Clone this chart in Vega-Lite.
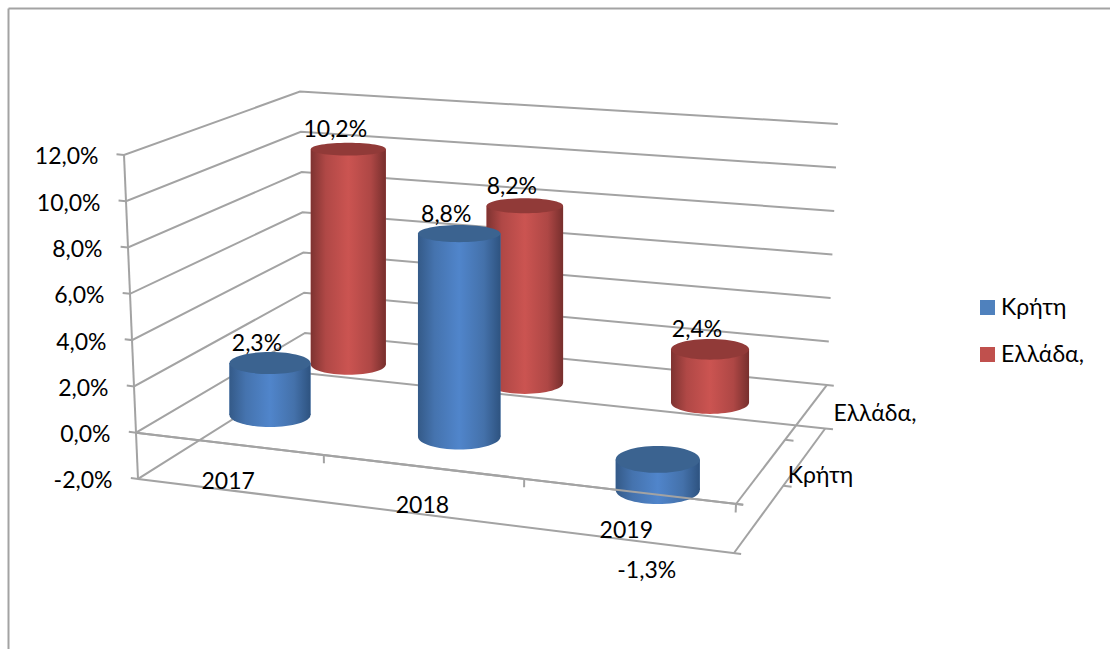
{
"$schema":"https://vega.github.io/schema/vega-lite/v6.json",
"width":1102,"height":641,
"autosize":{"type":"none"},
"padding":{"left":8,"top":8,"right":0,"bottom":0},
"background":"white",
"config":{"view":{"stroke":null},"font":"Lato","text":{"font":"Lato","fontSize":23,"color":"#000000"}},
"datasets":{
"walls":[
{"part":"g12","level":12,"a":-0.012,"d":0,"step":0},{"part":"g12","level":12,"a":0,"d":0,"step":1},{"part":"g12","level":12,"a":0,"d":1,"step":2},{"part":"g12","level":12,"a":1,"d":1,"step":3},
{"part":"g10","level":10,"a":-0.012,"d":0,"step":0},{"part":"g10","level":10,"a":0,"d":0,"step":1},{"part":"g10","level":10,"a":0,"d":1,"step":2},{"part":"g10","level":10,"a":1,"d":1,"step":3},
{"part":"g8","level":8,"a":-0.012,"d":0,"step":0},{"part":"g8","level":8,"a":0,"d":0,"step":1},{"part":"g8","level":8,"a":0,"d":1,"step":2},{"part":"g8","level":8,"a":1,"d":1,"step":3},
{"part":"g6","level":6,"a":-0.012,"d":0,"step":0},{"part":"g6","level":6,"a":0,"d":0,"step":1},{"part":"g6","level":6,"a":0,"d":1,"step":2},{"part":"g6","level":6,"a":1,"d":1,"step":3},
{"part":"g4","level":4,"a":-0.012,"d":0,"step":0},{"part":"g4","level":4,"a":0,"d":0,"step":1},{"part":"g4","level":4,"a":0,"d":1,"step":2},{"part":"g4","level":4,"a":1,"d":1,"step":3},
{"part":"g2","level":2,"a":-0.012,"d":0,"step":0},{"part":"g2","level":2,"a":0,"d":0,"step":1},{"part":"g2","level":2,"a":0,"d":1,"step":2},{"part":"g2","level":2,"a":1,"d":1,"step":3},
{"part":"g0","level":0,"a":-0.012,"d":0,"step":0},{"part":"g0","level":0,"a":0,"d":0,"step":1},{"part":"g0","level":0,"a":0,"d":1,"step":2},{"part":"g0","level":0,"a":1,"d":1,"step":3},{"part":"g0","level":0,"a":1.013,"d":1,"step":4},
{"part":"gm2","level":-2,"a":-0.012,"d":0,"step":0},{"part":"gm2","level":-2,"a":0,"d":0,"step":1},{"part":"gm2","level":-2,"a":0,"d":1,"step":2},{"part":"gm2","level":-2,"a":1,"d":1,"step":3},{"part":"gm2","level":-2,"a":1.015,"d":1,"step":4},
{"part":"axis","level":-2,"a":0,"d":0,"step":0},{"part":"axis","level":12,"a":0,"d":0,"step":1},
{"part":"side0","level":0,"a":1,"d":0,"step":0},{"part":"side0","level":0,"a":1,"d":1,"step":1},
{"part":"sidem2","level":-2,"a":1,"d":0,"step":0},{"part":"sidem2","level":-2,"a":1,"d":1,"step":1},
{"part":"tickside0","level":0,"a":1,"d":0.54,"step":0},{"part":"tickside0","level":0,"a":1.015,"d":0.54,"step":1},
{"part":"ticksidem2","level":-2,"a":1,"d":0.54,"step":0},{"part":"ticksidem2","level":-2,"a":1.015,"d":0.54,"step":1},
{"part":"tick1","level":0,"a":0.313,"d":0,"step":0},{"part":"tick1","level":-0.35,"a":0.313,"d":0,"step":1},
{"part":"tick2","level":0,"a":0.647,"d":0,"step":0},{"part":"tick2","level":-0.35,"a":0.647,"d":0,"step":1},
{"part":"tick3","level":0,"a":1,"d":0,"step":0},{"part":"tick3","level":-0.35,"a":1,"d":0,"step":1},
{"part":"frontm2","level":-2,"a":0,"d":0,"step":0},{"part":"frontm2","level":-2,"a":1.012,"d":0,"step":1},
{"part":"front0","level":0,"a":0,"d":0,"step":0},{"part":"front0","level":0,"a":1.012,"d":0,"step":1}
]
},
"data":{"values":[
{"year":2017,"region":"Κρήτη","value":2.3},
{"year":2018,"region":"Κρήτη","value":8.8},
{"year":2019,"region":"Κρήτη","value":-1.3},
{"year":2017,"region":"Ελλάδα,","value":10.2},
{"year":2018,"region":"Ελλάδα,","value":8.2},
{"year":2019,"region":"Ελλάδα,","value":2.4}
]},
"transform":[
{"calculate":"datum.year==2017?0.158:datum.year==2018?0.484:0.826","as":"a"},
{"calculate":"datum.region=='Κρήτη'?0.25:0.75","as":"d"},
{"calculate":"(1-datum.a)*(1-datum.d)*136+datum.a*(1-datum.d)*736+(1-datum.a)*datum.d*305+datum.a*datum.d*827","as":"px"},
{"calculate":"datum.a*(1-datum.d)*(-3.081)+(1-datum.a)*datum.d*4.309+datum.a*datum.d*2.061+(datum.region=='Κρήτη'?0.14:0.1)","as":"off"},
{"calculate":"(1-datum.a)*(1-datum.d)+datum.a*(1-datum.d)*1.059+(1-datum.a)*datum.d*0.869+datum.a*datum.d*0.94","as":"slope"},
{"calculate":"datum.off+datum.slope*max(datum.value,0)","as":"hTop"},
{"calculate":"datum.off+datum.slope*min(datum.value,0)","as":"hBot"},
{"calculate":"83.3-12*datum.d+4.5*datum.a","as":"w"},
{"calculate":"datum.w*datum.w","as":"capSize"},
{"calculate":"'M-1,0A1,'+(0.17+(12.16-datum.hTop)*0.01122)+',0,1,1,1,0A1,'+(0.17+(12.16-datum.hTop)*0.01122)+',0,1,1,-1,0Z'","as":"capTop"},
{"calculate":"'M-1,0A1,'+(0.17+(12.16-datum.hBot)*0.01122)+',0,1,1,1,0A1,'+(0.17+(12.16-datum.hBot)*0.01122)+',0,1,1,-1,0Z'","as":"capBot"},
{"calculate":"replace(replace(format(datum.value,'.1f'),'.',','),'\u2212','-')+'%'","as":"label"},
{"calculate":"(1-datum.a)*138+datum.a*734","as":"yearX"},
{"calculate":"-2+datum.a*(-3.081+1.059*(-2)+2)","as":"yearH"},
{"calculate":"(1-datum.d)*734+datum.d*825.2","as":"regionX"},
{"calculate":"(1-datum.d)*(-3.081+1.059*(-2))+datum.d*(2.061+0.94*(-2))","as":"regionH"}
],
"layer":[
{"data":{"name":"walls"},
 "transform":[
  {"calculate":"(1-datum.a)*(1-datum.d)*(136-datum.level)+datum.a*(1-datum.d)*(736+datum.level)+(1-datum.a)*datum.d*(305-0.42*datum.level)+datum.a*datum.d*(827+0.9*datum.level)","as":"px"},
  {"calculate":"(1-datum.a)*(1-datum.d)*datum.level+datum.a*(1-datum.d)*(-3.081+1.059*datum.level)+(1-datum.a)*datum.d*(4.309+0.869*datum.level)+datum.a*datum.d*(2.061+0.94*datum.level)","as":"h"}
 ],
 "mark":{"type":"line","color":"#a3a3a3","strokeWidth":2,"clip":false},
 "encoding":{
  "x":{"field":"px","type":"quantitative","scale":{"domain":[8,1110],"nice":false,"zero":false,"padding":0},
       "axis":{"orient":"top","title":null,"labels":false,"ticks":false,"grid":false,"domainColor":"#a3a3a3","domainWidth":2}},
  "y":{"field":"h","type":"quantitative","scale":{"domain":[-9.347,18.35],"nice":false,"zero":false,"padding":0},
       "axis":{"title":null,"values":[-2,0,2,4,6,8,10,12],"grid":false,"ticks":false,"domainColor":"#a3a3a3","domainWidth":2,
               "labelExpr":"replace(replace(format(datum.value,'.1f'),'.',','),'\u2212','-')+'%'","labelFont":"Lato","labelFontSize":23,"labelColor":"#000000",
               "labelPadding":{"expr":"datum.value-102"},"labelOffset":2,"labelBound":false,"labelOverlap":false}},
  "detail":{"field":"part"},
  "order":{"field":"step"}
 }},
{"transform":[{"filter":"datum.region=='Ελλάδα,'"}],
 "layer":[
  {"mark":{"type":"bar","orient":"vertical"},
   "encoding":{"x":{"field":"px","type":"quantitative"},"y":{"field":"hTop","type":"quantitative"},"y2":{"field":"hBot"},"size":{"field":"w","type":"quantitative","scale":null,"legend":null},
    "color":{"field":"region","type":"nominal","scale":{"domain":["Κρήτη","Ελλάδα,"],"range":["#4f81bd","#c0504d"]},
     "legend":{"title":null,"orient":"none","legendX":968,"legendY":288,"symbolType":"square","symbolSize":225,"labelFont":"Lato","labelFontSize":23,"labelColor":"#000000","rowPadding":23,"labelOffset":2,"symbolStrokeWidth":0}}}},
  {"mark":{"type":"point","filled":true,"opacity":1,"fill":{"gradient":"linear","x1":0,"x2":1,"y1":0,"y2":0,"stops":[{"offset":0,"color":"#7e3331"},{"offset":0.2,"color":"#b04846"},{"offset":0.5,"color":"#cb5451"},{"offset":0.8,"color":"#ae4745"},{"offset":1,"color":"#772f2d"}]}},
   "encoding":{"x":{"field":"px","type":"quantitative"},"y":{"field":"hBot","type":"quantitative"},"size":{"field":"capSize","type":"quantitative","scale":null},"shape":{"field":"capBot","type":"nominal","scale":null}}},
  {"mark":{"type":"bar","orient":"vertical","fill":{"gradient":"linear","x1":0,"x2":1,"y1":0,"y2":0,"stops":[{"offset":0,"color":"#7e3331"},{"offset":0.2,"color":"#b04846"},{"offset":0.5,"color":"#cb5451"},{"offset":0.8,"color":"#ae4745"},{"offset":1,"color":"#772f2d"}]}},
   "encoding":{"x":{"field":"px","type":"quantitative"},"y":{"field":"hTop","type":"quantitative"},"y2":{"field":"hBot"},"size":{"field":"w","type":"quantitative","scale":null}}},
  {"mark":{"type":"point","filled":true,"opacity":1,"fill":"#913a38"},
   "encoding":{"x":{"field":"px","type":"quantitative"},"y":{"field":"hTop","type":"quantitative"},"size":{"field":"capSize","type":"quantitative","scale":null},"shape":{"field":"capTop","type":"nominal","scale":null}}}
 ]},
{"transform":[{"filter":"datum.region=='Κρήτη'"}],
 "layer":[
  {"mark":{"type":"bar","orient":"vertical"},
   "encoding":{"x":{"field":"px","type":"quantitative"},"y":{"field":"hTop","type":"quantitative"},"y2":{"field":"hBot"},"size":{"field":"w","type":"quantitative","scale":null,"legend":null},
    "color":{"field":"region","type":"nominal"}}},
  {"mark":{"type":"point","filled":true,"opacity":1,"fill":{"gradient":"linear","x1":0,"x2":1,"y1":0,"y2":0,"stops":[{"offset":0,"color":"#345a88"},{"offset":0.2,"color":"#4573ae"},{"offset":0.5,"color":"#5085cb"},{"offset":0.8,"color":"#4471aa"},{"offset":1,"color":"#2e5380"}]}},
   "encoding":{"x":{"field":"px","type":"quantitative"},"y":{"field":"hBot","type":"quantitative"},"size":{"field":"capSize","type":"quantitative","scale":null},"shape":{"field":"capBot","type":"nominal","scale":null}}},
  {"mark":{"type":"bar","orient":"vertical","fill":{"gradient":"linear","x1":0,"x2":1,"y1":0,"y2":0,"stops":[{"offset":0,"color":"#345a88"},{"offset":0.2,"color":"#4573ae"},{"offset":0.5,"color":"#5085cb"},{"offset":0.8,"color":"#4471aa"},{"offset":1,"color":"#2e5380"}]}},
   "encoding":{"x":{"field":"px","type":"quantitative"},"y":{"field":"hTop","type":"quantitative"},"y2":{"field":"hBot"},"size":{"field":"w","type":"quantitative","scale":null}}},
  {"mark":{"type":"point","filled":true,"opacity":1,"fill":"#3b6390"},
   "encoding":{"x":{"field":"px","type":"quantitative"},"y":{"field":"hTop","type":"quantitative"},"size":{"field":"capSize","type":"quantitative","scale":null},"shape":{"field":"capTop","type":"nominal","scale":null}}}
 ]},
{"data":{"name":"walls"},
 "transform":[{"filter":"datum.part=='front0'"},
  {"calculate":"datum.a*(736)+(1-datum.a)*136","as":"px"},
  {"calculate":"datum.a*(-3.081)","as":"h"}],
 "mark":{"type":"line","color":"#a3a3a3","strokeWidth":2},
 "encoding":{"x":{"field":"px","type":"quantitative"},"y":{"field":"h","type":"quantitative"}}},
{"transform":[{"filter":"datum.value>=0"}],
 "mark":{"type":"text","dx":-13,"dy":-19,"baseline":"middle"},
 "encoding":{"x":{"field":"px","type":"quantitative"},"y":{"field":"hTop","type":"quantitative"},"text":{"field":"label"}}},
{"transform":[{"filter":"datum.value<0"}],
 "mark":{"type":"text","dx":-11,"dy":81,"baseline":"middle"},
 "encoding":{"x":{"field":"px","type":"quantitative"},"y":{"field":"hBot","type":"quantitative"},"text":{"field":"label"}}},
{"transform":[{"filter":"datum.region=='Κρήτη'"}],
 "mark":{"type":"text","dx":-4,"dy":-9,"baseline":"middle"},
 "encoding":{"x":{"field":"yearX","type":"quantitative"},"y":{"field":"yearH","type":"quantitative"},"text":{"field":"year","type":"nominal"}}},
{"transform":[{"filter":"datum.year==2017"}],
 "mark":{"type":"text","dx":31,"dy":-46,"baseline":"middle","align":"left"},
 "encoding":{"x":{"field":"regionX","type":"quantitative"},"y":{"field":"regionH","type":"quantitative"},"text":{"field":"region"}}}
]
}
